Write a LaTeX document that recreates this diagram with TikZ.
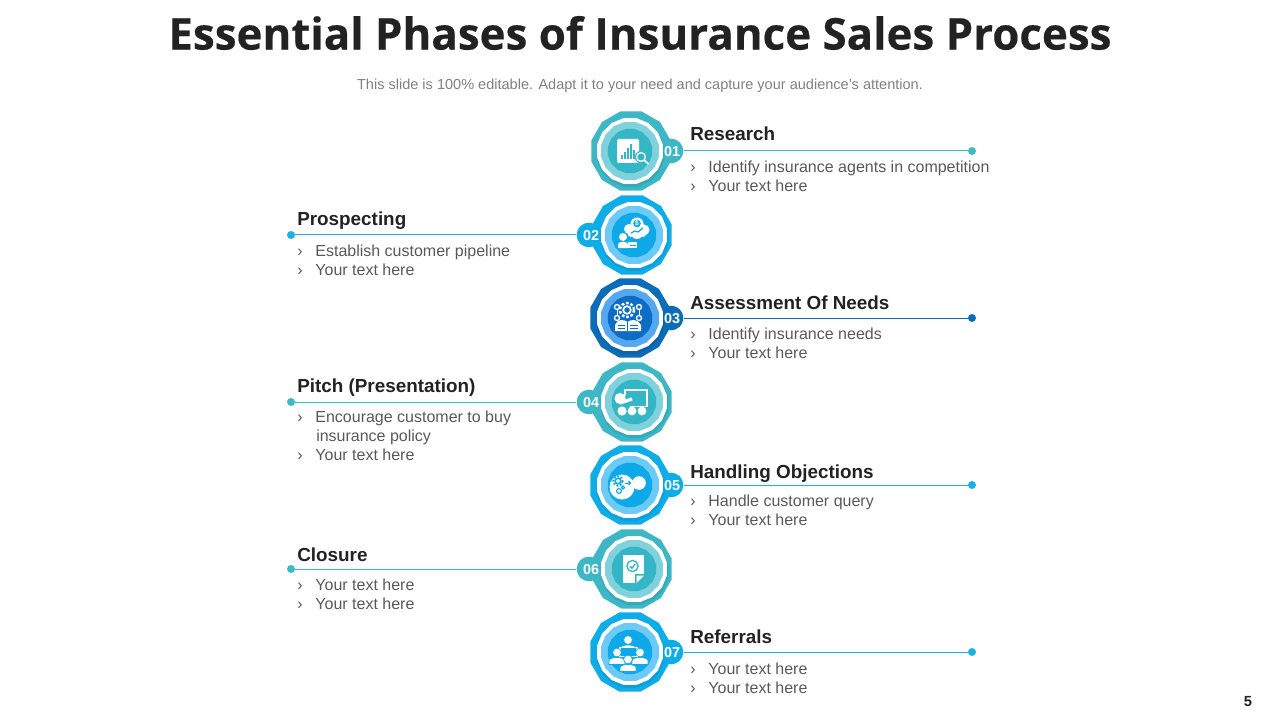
\documentclass[tikz,border=0pt]{standalone}
\usepackage{fontspec}
\setmainfont{Liberation Sans}
\newfontfamily\titlefont[BoldFeatures={FakeBold=0.35}]{Open Sans}
\usetikzlibrary{shapes.geometric}
\definecolor{tealA}{HTML}{3DB7C6}
\definecolor{tealB}{HTML}{7FD1DC}
\definecolor{tealC}{HTML}{35B6C6}
\definecolor{tealD}{HTML}{36A9B8}
\definecolor{blueA}{HTML}{0FADE8}
\definecolor{blueB}{HTML}{6CCBF6}
\definecolor{blueC}{HTML}{0FA9E9}
\definecolor{blueD}{HTML}{0CA0DA}
\definecolor{navyA}{HTML}{0B6DB8}
\definecolor{navyB}{HTML}{55A8F0}
\definecolor{navyC}{HTML}{0D6CC4}
\definecolor{navyD}{HTML}{0A63A8}
\definecolor{tealG}{HTML}{3DB9C9}
\definecolor{blueG}{HTML}{1BB0E6}
\definecolor{navyG}{HTML}{0B6DB8}
\definecolor{headc}{HTML}{222222}
\definecolor{bodyc}{HTML}{595959}
\tikzset{
 poly/.style={regular polygon,regular polygon sides=16,inner sep=0pt,minimum size=#1*0.75pt,draw=none},
 outerpoly/.style={regular polygon,regular polygon sides=12,inner sep=0pt,minimum size=#1*0.75pt,draw=none},
 numbadge/.style={circle,inner sep=0pt,minimum size=18.5pt,font=\bfseries\fontsize{10.8}{12}\selectfont,text=white},
 head/.style={anchor=base west,inner sep=0pt,font=\bfseries\fontsize{14.15}{17}\selectfont,text=headc},
 bodyt/.style={anchor=base west,inner sep=0pt,font=\fontsize{12}{14}\selectfont,text=bodyc},
 pointdot/.style={circle,inner sep=0pt,minimum size=6pt},
 link/.style={line width=0.75pt},
 ico/.style={fill=white,draw=none}
}
% #1 name #2 cx #3 cy #4 A #5 B #6 C #7 D #8 number #9 side (+1 right -1 left)
\newcommand{\medal}[9]{%
 \node[numbadge,fill=#4] (b#1) at ({630+#9*41},#3) {};
 \node[outerpoly=82,fill=#4] (m#1) at (#2,#3) {};
 \node[poly=69,fill=#7] at ({632-#9*2+0.5},{#3+2}) {};
 \node[poly=67,fill=white] at ({632-#9*2},#3) {};
 \node[poly=59,fill=#5] at ({632-#9*2},#3) {};
 \node[poly=45,fill=#6] at ({632-#9*2},#3) {};
 \node[numbadge,text=white] at ({631.5+#9*40.5},{#3+1}) {#8};
}
\newcommand{\person}[3]{% x y halo colour
 \fill[white,draw=#3,line width=0.5pt] ({#1-8},{#2+12}) -- ({#1-8},{#2+8}) .. controls ({#1-7},{#2+4}) and ({#1+7},{#2+4}) .. ({#1+8},{#2+8}) -- ({#1+8},{#2+12}) -- cycle;
 \fill[white,draw=#3,line width=0.5pt] (#1,#2) circle (4.4);
}
\begin{document}
\begin{tikzpicture}[x=0.75pt,y=-0.75pt]
\useasboundingbox (0,0) rectangle (1280,720);
\node[inner sep=0pt,font=\titlefont\bfseries\fontsize{32.9}{40}\selectfont,text=headc] (title) at (640,33) {Essential Phases of Insurance Sales Process};
\node[inner sep=0pt,font=\fontsize{10.9}{13}\selectfont,text=black!50] (sub) at (640,85.5) {This slide is 100\% editable. Adapt it to your need and capture your audience’s attention.};
\node[inner sep=0pt,font=\bfseries\fontsize{11}{13}\selectfont,text=headc] (pg) at (1248,702) {5};

\medal{1}{631}{151}{tealA}{tealB}{tealC}{tealD}{01}{1}
\medal{2}{632}{235}{blueA}{blueB}{blueC}{blueD}{02}{-1}
\medal{3}{630}{318}{navyA}{navyB}{navyC}{navyD}{03}{1}
\medal{4}{632}{402}{tealA}{tealB}{tealC}{tealD}{04}{-1}
\medal{5}{630}{485}{blueA}{blueB}{blueC}{blueD}{05}{1}
\medal{6}{632}{569}{tealA}{tealB}{tealC}{tealD}{06}{-1}
\medal{7}{630}{652}{blueA}{blueB}{blueC}{blueD}{07}{1}

% icon 1: chart with magnifier
\begin{scope}[shift={(632,151)}]
 \fill[white,rounded corners=1pt] (-15,-12) rectangle (7,12);
 \foreach \x/\h in {-11/4,-8/7,-5/11,-2/15,1/9}{\fill[tealC] (\x,8) rectangle ++(1.8,-\h);}
 \fill[tealC] (9,6) circle (6.2);
 \draw[white,line width=1pt] (9,6) circle (4.4);
 \draw[white,line width=1.3pt] (12.2,9.2) -- (16.5,13);
\end{scope}
% icon 2: cloud with dollar, person at desk
\begin{scope}[shift={(632,235)}]
 \fill[white] (5,-11) circle (6.5) (-3,-6) circle (5) (12,-5) circle (5.5) (5,-2) circle (6) (-1,-1.5) circle (3.5) (11,-1) circle (3);
 \fill[blueC] (5,-11.5) circle (3.8);
 \node[inner sep=0pt,text=white,font=\bfseries\fontsize{5}{5}\selectfont] (dollar) at (5,-11.5) {\$};
 \draw[blueC,line width=0.9pt] (-1,-2) -- (3,-4) -- (6,-3) -- (11,-7);
 \fill[white] (-9,2) circle (4);
 \fill[white] (-14,13) -- (-14,9) .. controls (-13,6) and (-5,6) .. (-4,9) -- (-4,13) -- cycle;
 \fill[white] (-4,7.5) rectangle (5,13);
 \fill[blueC] (-2.5,9.5) rectangle (3.5,10.4);
\end{scope}
% icon 3: open book, gear, circles
\begin{scope}[shift={(630,318)}]
 \draw[white,line width=1.3pt] (-3,-8) circle (3.8);
 \draw[white,line width=1.8pt,dash pattern=on 2pt off 1.4pt] (-3,-8) circle (7);
 \draw[white,line width=1pt] (-13,-11) circle (2.5) (9,-11) circle (2.5) (-13,0) circle (2.5) (9,0) circle (2.5);
 \draw[white,line width=0.7pt] (-13,-8.5) -- (-13,-2.5) (9,-8.5) -- (9,-2.5);
 \fill[white] (-15,13) -- (-15,7) .. controls (-13,1) and (-6,1) .. (-2.5,4) .. controls (1,1) and (8,1) .. (11,7) -- (11,13) -- cycle;
 \draw[navyC,line width=0.6pt] (-2.5,4) -- (-2.5,13) (-12,7.5) -- (-5,7.5) (0,7.5) -- (8,7.5) (-12,10) -- (-5,10) (0,10) -- (8,10);
\end{scope}
% icon 4: presenter at board
\begin{scope}[shift={(632,402)}]
 \draw[white,line width=1.4pt] (-7,-6) -- (-7,-12) -- (15,-12) -- (15,4.5) -- (-2,4.5);
 \fill[white] (-12,-3.5) circle (5.6);
 \draw[white,line width=2.4pt] (-12,1) -- (0,-3);
 \fill[white] (-10,9) circle (4.6) (0,9) circle (4.4) (10,9) circle (4.4);
\end{scope}
% icon 5: gears and idea in circles
\begin{scope}[shift={(630,485)}]
 \fill[white] (-8,2) circle (12.5);
 \fill[white] (9,-2) circle (6.8);
 \draw[blueC,line width=1.1pt] (-12,-4) circle (2.8);
 \draw[blueC,line width=1.5pt,dash pattern=on 1.4pt off 1.2pt] (-12,-4) circle (4.7);
 \draw[blueC,line width=0.9pt] (-11,6) circle (2.4) (-7,2.5) circle (1.6);
 \draw[blueC,line width=0.8pt] (-5,-1.5) -- (0.5,-2) (-1.5,-4) -- (0.5,-2) -- (-1.5,0);
\end{scope}
% icon 6: document with check
\begin{scope}[shift={(632,569)}]
 \fill[white] (-9,-14) rectangle (12,14);
 \draw[tealC,line width=1pt] (0.5,-3) circle (5.6);
 \draw[tealC,line width=1pt] (-2,-3) -- (0,-0.8) -- (3.2,-5);
 \fill[tealC] (3,5) rectangle (13,15);
 \fill[white] (4.5,6.5) -- (12,6.5) -- (4.5,14) -- cycle;
\end{scope}
% icon 7: four people around a table
\begin{scope}[shift={(630,652)}]
 \person{-2}{-12}{blueC}
 \fill[white] (-11,-5.5) rectangle (8,5);
 \fill[blueC] (-9,-4) rectangle (6,4);
 \person{-13}{0.5}{blueC}
 \person{10}{0.5}{blueC}
 \person{-2}{7.5}{blueC}
\end{scope}

\foreach \n/\x/\y/\c in {1/972/151/tealG,2/291/235/blueG,3/972/318/navyG,4/291/402/tealG,5/972/485/blueG,6/291/569/tealG,7/972/652/blueG}{
 \node[pointdot,fill=\c] (d\n) at (\x,\y) {};
 \draw[link,draw=\c] (b\n) -- (d\n);
}

\node[head] (h1) at (690,141) {Research};
\node[bodyt] (t1a) at (690,173) {›\hspace{9.6pt}Identify insurance agents in competition};
\node[bodyt] (t1b) at (690,192) {›\hspace{9.6pt}Your text here};
\node[head] (h2) at (297,225) {Prospecting};
\node[bodyt] (t2a) at (297,256) {›\hspace{9.6pt}Establish customer pipeline};
\node[bodyt] (t2b) at (297,275) {›\hspace{9.6pt}Your text here};
\node[head] (h3) at (690,309) {Assessment Of Needs};
\node[bodyt] (t3a) at (690,339) {›\hspace{9.6pt}Identify insurance needs};
\node[bodyt] (t3b) at (690,358) {›\hspace{9.6pt}Your text here};
\node[head] (h4) at (297,392) {Pitch (Presentation)};
\node[bodyt] (t4a) at (297,422) {›\hspace{9.6pt}Encourage customer to buy};
\node[bodyt] (t4b) at (316,441) {insurance policy};
\node[bodyt] (t4c) at (297,460) {›\hspace{9.6pt}Your text here};
\node[head] (h5) at (690,478) {Handling Objections};
\node[bodyt] (t5a) at (690,506) {›\hspace{9.6pt}Handle customer query};
\node[bodyt] (t5b) at (690,525) {›\hspace{9.6pt}Your text here};
\node[head] (h6) at (297,561) {Closure};
\node[bodyt] (t6a) at (297,590) {›\hspace{9.6pt}Your text here};
\node[bodyt] (t6b) at (297,609) {›\hspace{9.6pt}Your text here};
\node[head] (h7) at (690,643) {Referrals};
\node[bodyt] (t7a) at (690,674) {›\hspace{9.6pt}Your text here};
\node[bodyt] (t7b) at (690,693) {›\hspace{9.6pt}Your text here};
\end{tikzpicture}
\end{document}
